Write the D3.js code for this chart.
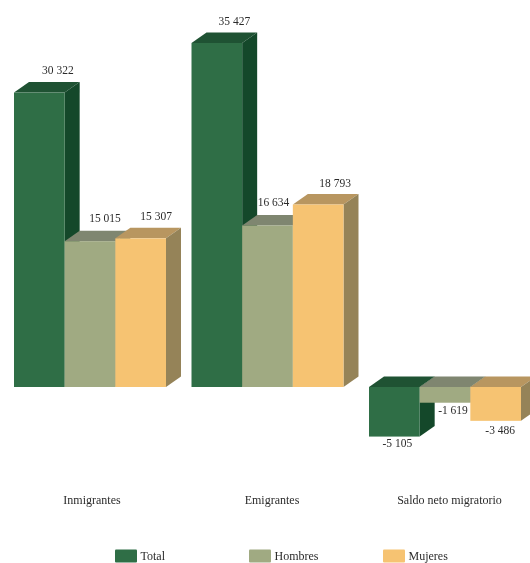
<!DOCTYPE html>
<html>
<head>
<meta charset="utf-8">
<script src="https://cdn.jsdelivr.net/npm/d3@7"></script>
<style>
  html, body { margin: 0; padding: 0; background: #fff; }
  svg { display: block; filter: blur(0.35px); }
  text { font-family: "Liberation Serif", serif; font-size: 11.5px; fill: #2b2b2b; }
  text.big { font-size: 12px; }
</style>
</head>
<body>
<svg id="chart" width="530" height="563"></svg>
<script>
const categories = ['Inmigrantes', 'Emigrantes', 'Saldo neto migratorio'];
const seriesNames = ['Total', 'Hombres', 'Mujeres'];
const inmigrantes = [30322, 15015, 15307];
const emigrantes = [35427, 16634, 18793];
const saldo = [-5105, -1619, -3486];

const frontColors = ['#2f6e46', '#a0aa82', '#f6c372'];
const topColors = ['#1f5233', '#7f8670', '#b89660'];
const sideColors = ['#14482a', '#7a8066', '#958358'];

const svg = d3.select('#chart');
const valuesByCategory = [inmigrantes, emigrantes, saldo];

const x0 = d3.scaleBand().domain(categories).range([14, 521]).paddingInner(0.1437);
const x1 = d3.scaleBand().domain(seriesNames).range([0, x0.bandwidth()]);
// same baseline for positive and negative bars
const y = d3.scaleLinear().domain([0, 35427]).range([387, 43]);

const depthX = 15, depthY = 10.5;
const fmt = v => (v < 0 ? '-' : '') + d3.format(',')(Math.abs(v)).replace(',', ' ');

// the 3d offset of the labels is not regular in the original: [dx from bar centre, dy from bar end]
const labelNudge = {
  30322: [18.5, -18.5], 15015: [15, -19], 15307: [15.5, -18.5],
  35427: [17.5, -18.5], 16634: [6, -19], 18793: [17, -17.5],
  '-5105': [3, 10], '-1619': [8, 11], '-3486': [4.5, 13.5]
};

categories.forEach((cat, c) => {
  const g = svg.append('g').attr('transform', `translate(${x0(cat)},0)`);

  seriesNames.forEach((name, s) => {
    const v = valuesByCategory[c][s];
    const left = x1(name), right = left + x1.bandwidth();
    const yTop = Math.min(y(v), y(0)), yBot = Math.max(y(v), y(0));

    // top face
    g.append('path')
      .attr('d', `M${left},${yTop}L${left + depthX},${yTop - depthY}L${right + depthX},${yTop - depthY}L${right},${yTop}Z`)
      .attr('fill', topColors[s]);
    // side face
    g.append('path')
      .attr('d', `M${right},${yTop}L${right + depthX},${yTop - depthY}L${right + depthX},${yBot - depthY}L${right},${yBot}Z`)
      .attr('fill', sideColors[s]);
    // front face
    g.append('rect')
      .attr('x', left).attr('y', yTop)
      .attr('width', x1.bandwidth()).attr('height', yBot - yTop)
      .attr('fill', frontColors[s]);
  });
});

// labels go on top of all the bars
categories.forEach((cat, c) => {
  seriesNames.forEach((name, s) => {
    const v = valuesByCategory[c][s];
    const [dx, dy] = labelNudge[v];
    svg.append('text')
      .attr('x', x0(cat) + x1(name) + x1.bandwidth() / 2 + dx)
      .attr('y', y(v) + dy)
      .attr('text-anchor', 'middle')
      .text(fmt(v));
  });
  svg.append('text')
    .attr('class', 'big')
    .attr('x', x0(cat) + x0.bandwidth() / 2 + (c === 0 ? 2 : 4.5))
    .attr('y', 504)
    .attr('text-anchor', 'middle')
    .text(cat);
});

// legend
const legendX = d3.scalePoint().domain(seriesNames).range([115, 383]);
seriesNames.forEach((name, s) => {
  svg.append('rect')
    .attr('x', legendX(name)).attr('y', 549.5)
    .attr('width', 22).attr('height', 13).attr('rx', 1)
    .attr('fill', frontColors[s]);
  svg.append('text')
    .attr('class', 'big')
    .attr('x', legendX(name) + 25.5).attr('y', 560)
    .text(name);
});
</script>
</body>
</html>
